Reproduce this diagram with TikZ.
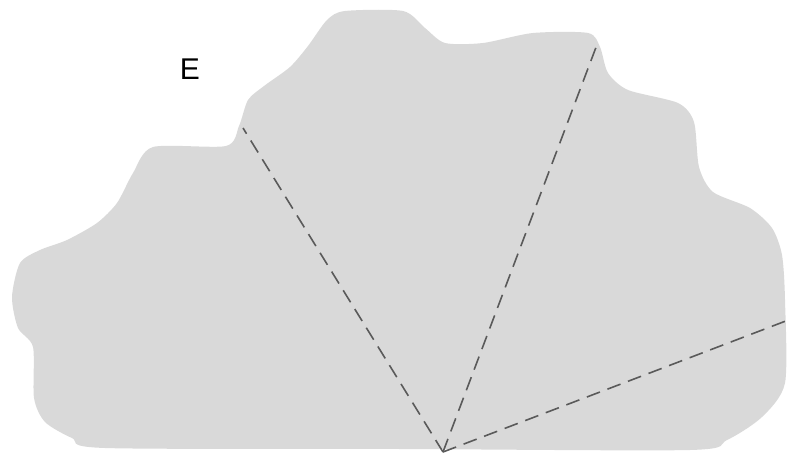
\documentclass[tikz,border=0pt]{standalone}
\usepackage{fontspec}
\setmainfont{Liberation Sans}
\usetikzlibrary{calc}

\definecolor{blobgray}{HTML}{D9D9D9}
\definecolor{raygray}{HTML}{5A5A5A}

\begin{document}
\begin{tikzpicture}[x=0.5pt,y=-0.5pt,
  ray/.style={draw=raygray, line width=0.8pt, dash pattern=on 7pt off 4pt}]

% Page frame
\useasboundingbox (0,0) rectangle (791,459);

% Region
\fill[blobgray] plot[smooth cycle, tension=0.45] coordinates {
  (153,147) (226,146) (239,126) (248,100) (264,86) (290,67) (308,46)
  (327,20) (345,11) (403,11) (425,28) (445,43) (483,43) (533,33)
  (588,33) (600,47) (608,73) (628,90) (678,103) (694,122) (699,167)
  (713,192) (750,208) (772,228) (782,255) (785,300) (785,383)
  (762,417) (727,440) (690,450) (400,449) (105,448) (72,438)
  (45,422) (34,398) (33,347) (18,328) (12,297) (20,263) (40,250)
  (67,240) (97,223) (117,203) (133,173)};

% Apex and ray ends
\coordinate (O) at (443,452);
\coordinate (L) at (243,128);
\coordinate (M) at (598,42);
\coordinate (R) at (791,319);

% Rays
\draw[ray] (O) -- (L);
\draw[ray] (O) -- (M);
\draw[ray] (O) -- (R);

% Label
\node[font=\fontsize{15}{18}\selectfont] (lblE) at (190,69) {E};

\end{tikzpicture}
\end{document}
